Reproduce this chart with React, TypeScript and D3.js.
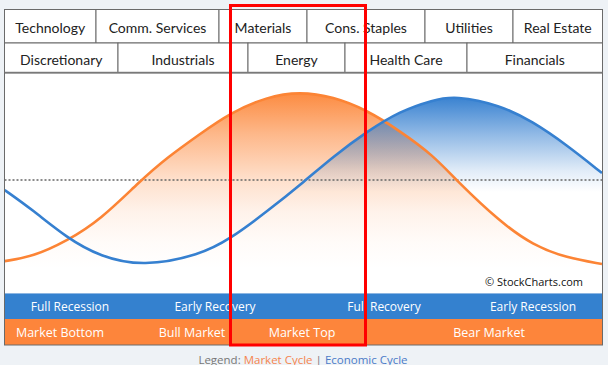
import React from "react";
import * as d3 from "d3";

// ---- data ----
const sectorsRow1 = ["Technology", "Comm. Services", "Materials", "Cons. Staples", "Utilities", "Real Estate"];
const sectorsRow2 = ["Discretionary", "Industrials", "Energy", "Health Care", "Financials"];
const economicPhases = ["Full Recession", "Early Recovery", "Full Recovery", "Early Recession"];
const marketPhases = ["Market Bottom", "Bull Market", "Market Top", "Bear Market"];

// cycle phase (0-100) and cycle strength (0-100)
const marketPhase = [0, 4.7, 10.4, 16.0, 22.7, 27.1, 32.7, 37.7, 43.9, 49.4, 55.0, 60.6, 66.2, 71.7, 75.7, 82.9, 88.4, 94.1, 100];
const marketCycle = [14.5, 16.5, 23.6, 33.2, 51.0, 61.4, 72.3, 81.8, 89.2, 91.5, 89.2, 83.2, 73.6, 62.7, 51.0, 32.4, 21.8, 15.9, 13.2];
const economicPhase = [0, 4.7, 10.4, 16.0, 23.2, 32.7, 37.7, 43.9, 50.3, 55.0, 60.6, 66.2, 71.7, 75.4, 82.9, 88.4, 94.1, 100];
const economicCycle = [46.8, 37.7, 25.1, 16.5, 12.0, 17.3, 24.5, 37.0, 51.0, 62.0, 73.3, 82.7, 87.7, 89.7, 85.5, 77.9, 67.3, 54.5];
const midline = 51.4;

// ---- layout ----
const W = 608, H = 365;
const L = 4.5, R = 602.5;
const row1Edges = [4.5, 96, 219, 307, 425, 513, 602.5];
const row2Edges = [4.5, 118, 248, 345, 467, 602.5];
const row1Y = [9.5, 43];
const row2Y = [43, 72.5];
const chartTop = 73, chartBottom = 293;
const band1 = [293, 319];
const band2 = [319, 345];
const econLabelX = [70, 215, 384, 533];
const marketLabelX = [60, 192, 302, 489];

const ORANGE = "#fc8435";
const BLUE = "#3680d0";
const BAND_BLUE = "#3481cf";
const BAND_ORANGE = "#fd853b";
const BORDER = "#6a6a6a";

export default function App() {
  const x = d3.scaleLinear().domain([0, 100]).range([4.7, 602]);
  const y = d3.scaleLinear().domain([0, 100]).range([chartBottom, chartTop]);

  const mData = marketPhase.map((p, i) => [p, marketCycle[i]] as [number, number]);
  const eData = economicPhase.map((p, i) => [p, economicCycle[i]] as [number, number]);

  const curve = d3.curveBasis;
  const line = d3.line<[number, number]>().x(d => x(d[0])).y(d => y(d[1])).curve(curve);
  const area = d3.area<[number, number]>().x(d => x(d[0])).y0(chartBottom).y1(d => y(d[1])).curve(curve);

  const oTop = y(d3.max(marketCycle)!);
  const bTop = y(d3.max(economicCycle)!);

  const cells = (names: string[], edges: number[], ys: number[], key: string) =>
    names.map((n, i) => (
      <g key={key + i}>
        <rect x={edges[i]} y={ys[0]} width={edges[i + 1] - edges[i]} height={ys[1] - ys[0]} fill="#fff" stroke={BORDER} strokeWidth={1} />
        <text x={(edges[i] + edges[i + 1]) / 2} y={(ys[0] + ys[1]) / 2 + 1.5} textAnchor="middle" dominantBaseline="central"
          fontFamily="Lato, 'Open Sans', sans-serif" fontSize={14} fill="#222">{n}</text>
      </g>
    ));

  return (
    <svg width={W} height={H} style={{ position: "absolute", left: 0, top: 0 }}>
      <defs>
        <linearGradient id="gO" gradientUnits="userSpaceOnUse" x1={0} x2={0} y1={oTop} y2={chartBottom}>
          <stop offset="0" stopColor={ORANGE} stopOpacity={0.95} />
          <stop offset="0.21" stopColor={ORANGE} stopOpacity={0.58} />
          <stop offset="0.44" stopColor={ORANGE} stopOpacity={0.25} />
          <stop offset="0.6" stopColor={ORANGE} stopOpacity={0.1} />
          <stop offset="0.75" stopColor={ORANGE} stopOpacity={0.03} />
          <stop offset="0.88" stopColor={ORANGE} stopOpacity={0} />
        </linearGradient>
        <linearGradient id="gB" gradientUnits="userSpaceOnUse" x1={0} x2={0} y1={bTop} y2={y(midline) + 12}>
          <stop offset="0" stopColor={BLUE} stopOpacity={1} />
          <stop offset="0.4" stopColor={BLUE} stopOpacity={0.55} />
          <stop offset="0.78" stopColor={BLUE} stopOpacity={0.15} />
          <stop offset="1" stopColor={BLUE} stopOpacity={0} />
        </linearGradient>
        <clipPath id="chartClip">
          <rect x={L} y={chartTop} width={R - L} height={chartBottom - chartTop} />
        </clipPath>
      </defs>
      <rect x={0} y={0} width={W} height={H} fill="#eef2f6" />

      {/* chart area */}
      <rect x={L} y={chartTop} width={R - L} height={chartBottom - chartTop} fill="#fff" />
      <g clipPath="url(#chartClip)">
        <path d={area(mData)!} fill="url(#gO)" />
        <path d={area(eData)!} fill="url(#gB)" />
        <line x1={L} x2={R} y1={y(midline)} y2={y(midline)} stroke="#666" strokeWidth={1.5} strokeDasharray="2,2" />
        <path d={line(mData)!} fill="none" stroke={ORANGE} strokeWidth={2.6} />
        <path d={line(eData)!} fill="none" stroke={BLUE} strokeWidth={2.6} />
      </g>
      <line x1={L} x2={L} y1={chartTop} y2={chartBottom} stroke={BORDER} strokeWidth={1} />
      <line x1={R} x2={R} y1={chartTop} y2={chartBottom} stroke={BORDER} strokeWidth={1} />
      <text x={583} y={281} textAnchor="end" dominantBaseline="central" fontFamily="'Open Sans', sans-serif" fontSize={11} fill="#111">© StockCharts.com</text>

      {/* sector cells */}
      {cells(sectorsRow1, row1Edges, row1Y, "r1")}
      {cells(sectorsRow2, row2Edges, row2Y, "r2")}
      <line x1={L} x2={R} y1={72.5} y2={72.5} stroke="#888" strokeWidth={1.5} />

      {/* bands */}
      <rect x={L} y={band1[0]} width={R - L} height={band1[1] - band1[0]} fill={BAND_BLUE} />
      <line x1={L} x2={R} y1={band1[0] + 0.5} y2={band1[0] + 0.5} stroke="#8db6e2" strokeWidth={1} />
      <rect x={L} y={band2[0]} width={R - L} height={band2[1] - band2[0]} fill={BAND_ORANGE} />
      <rect x={L} y={chartTop} width={R - L} height={band2[1] - chartTop} fill="none" stroke={BORDER} strokeWidth={1} />
      {economicPhases.map((t, i) => (
        <text key={"e" + i} x={econLabelX[i]} y={(band1[0] + band1[1]) / 2} textAnchor="middle" dominantBaseline="central"
          fontFamily="'Open Sans', sans-serif" fontSize={12} fill="#fff">{t}</text>
      ))}
      {marketPhases.map((t, i) => (
        <text key={"m" + i} x={marketLabelX[i]} y={(band2[0] + band2[1]) / 2} textAnchor="middle" dominantBaseline="central"
          fontFamily="'Open Sans', sans-serif" fontSize={12.5} fill="#fff">{t}</text>
      ))}

      {/* legend */}
      <text x={303} y={359} textAnchor="middle" dominantBaseline="central" fontFamily="'Open Sans', sans-serif" fontSize={11.5}>
        <tspan fill="#777">Legend: </tspan>
        <tspan fill="#f5854e">Market Cycle</tspan>
        <tspan fill="#777"> | </tspan>
        <tspan fill="#4b7bc8">Economic Cycle</tspan>
      </text>

      {/* highlight */}
      <rect x={230.5} y={5.5} width={135} height={339.5} fill="none" stroke="#ff0000" strokeWidth={3} />
    </svg>
  );
}
